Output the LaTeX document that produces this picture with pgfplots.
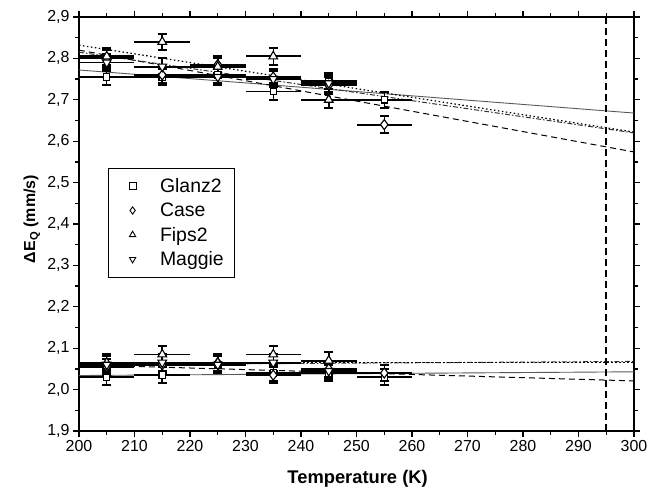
\documentclass[border=0pt]{standalone}
\usepackage{pgfplots}
\pgfplotsset{compat=1.18}
\usepackage{pgfplotstable}
\usepackage{fontspec}
\setmainfont{Liberation Sans}

\pgfplotstableread{
x y ex ey
205 2.755 5 0.02
215 2.755 5 0.02
225 2.760 5 0.02
235 2.720 5 0.02
245 2.745 5 0.02
255 2.700 5 0.02
205 2.030 5 0.02
215 2.035 5 0.02
225 2.060 5 0.02
235 2.040 5 0.02
245 2.040 5 0.02
255 2.030 5 0.02
}\glanz
\pgfplotstableread{
x y ex ey
205 2.800 5 0.02
215 2.760 5 0.02
225 2.785 5 0.02
235 2.755 5 0.02
245 2.735 5 0.02
255 2.640 5 0.02
205 2.055 5 0.02
215 2.060 5 0.02
225 2.065 5 0.02
235 2.035 5 0.02
245 2.050 5 0.02
255 2.040 5 0.02
}\case
\pgfplotstableread{
x y ex ey
205 2.805 5 0.02
215 2.840 5 0.02
225 2.780 5 0.02
235 2.805 5 0.02
245 2.700 5 0.02
205 2.065 5 0.02
215 2.085 5 0.02
225 2.065 5 0.02
235 2.085 5 0.02
245 2.070 5 0.02
}\fips
\pgfplotstableread{
x y ex ey
205 2.790 5 0.02
215 2.780 5 0.02
225 2.755 5 0.02
235 2.750 5 0.02
245 2.740 5 0.02
205 2.060 5 0.02
215 2.065 5 0.02
225 2.060 5 0.02
235 2.065 5 0.02
245 2.045 5 0.02
}\maggie

\pgfplotsset{
  xbars/.style={forget plot, draw=none, mark=none,
    error bars/x dir=both, error bars/x explicit, error bars/error mark=none,
    error bars/error bar style={line width=1.8bp, black}},
  ybars/.style={only marks, black, line width=1.1bp,
    error bars/y dir=both, error bars/y explicit,
    error bars/error bar style={line width=1.5bp, black},
    error bars/error mark=-,
    error bars/error mark options={rotate=90, mark size=4.5bp, line width=2bp, black}},
}

\begin{document}
\begin{tikzpicture}
\path[use as bounding box] (-79bp,-64bp) rectangle (570bp,431bp);
\begin{axis}[
  at={(0,0)}, anchor=south west,
  scale only axis, width=555bp, height=414bp,
  xmin=200, xmax=300, ymin=1.9, ymax=2.9,
  xtick={200,210,...,300},
  ytick={1.9,2.0,...,2.91},
  minor x tick num=1, minor y tick num=1,
  tick align=outside, tick pos=both,
  major tick length=6bp, minor tick length=3.5bp,
  every tick/.style={line width=1.3bp, black},
  axis line style={line width=1.6bp},
  /pgf/number format/assume math mode=true,
  yticklabel style={/pgf/number format/.cd, fixed, fixed zerofill, precision=1, use comma},
  xticklabel style={/pgf/number format/.cd, fixed, precision=0, 1000 sep={}},
  tick label style={font=\fontsize{16}{18}\selectfont},
  xlabel={\textbf{Temperature (K)}},
  ylabel={\textbf{ΔE\textsubscript{Q} (mm/s)}},
  xlabel style={font=\fontsize{18.4}{20}\selectfont, at={(axis description cs:0.502,-0.116)}, anchor=center},
  ylabel style={font=\fontsize{16}{18}\selectfont, at={(axis description cs:-0.085,0.512)}, anchor=center},
  legend style={at={(0.052,0.635)}, anchor=north west, draw=black, line width=0.6bp,
    font=\fontsize{19.5}{22}\selectfont, row sep=5bp, inner xsep=9bp, inner ysep=8bp},
  legend cell align=left,
  legend image code/.code={\path (0bp,0bp) (40bp,0bp); \draw plot coordinates {(15bp,0bp)};},
  legend image post style={mark size=3.6bp, line width=0.9bp},
  clip=false,
]
% fit lines (upper)
\addplot[forget plot, gray!70!black, line width=0.9bp] coordinates {(200,2.772) (300,2.668)};
\addplot[forget plot, black, line width=1bp, dash pattern=on 6bp off 4bp] coordinates {(200,2.820) (300,2.574)};
\addplot[forget plot, black!80, line width=1bp, dash pattern=on 5bp off 2bp on 1.5bp off 2bp] coordinates {(200,2.815) (300,2.620)};
\addplot[forget plot, black, line width=1.2bp, dash pattern=on 1.5bp off 2.5bp] coordinates {(200,2.832) (300,2.622)};
% fit lines (lower)
\addplot[forget plot, gray!70!black, line width=0.9bp] coordinates {(200,2.034) (300,2.043)};
\addplot[forget plot, black, line width=1bp, dash pattern=on 6bp off 4bp] coordinates {(200,2.060) (300,2.021)};
\addplot[forget plot, black!80, line width=1bp, dash pattern=on 5bp off 2bp on 1.5bp off 2bp] coordinates {(200,2.060) (300,2.068)};
\addplot[forget plot, black, line width=1.2bp, dash pattern=on 1.5bp off 2.5bp] coordinates {(200,2.066) (300,2.066)};
% vertical line
\addplot[forget plot, black, line width=1.6bp, dash pattern=on 7bp off 4bp] coordinates {(295,1.9) (295,2.9)};
% horizontal error bars
\addplot[xbars] table[x=x, y=y, x error=ex] {\glanz};
\addplot[xbars] table[x=x, y=y, x error=ex] {\case};
\addplot[xbars] table[x=x, y=y, x error=ex] {\fips};
\addplot[xbars] table[x=x, y=y, x error=ex] {\maggie};
% points
\addplot[ybars, mark=square*, mark size=3.2bp, mark options={fill=white, solid}] table[x=x, y=y, y error=ey] {\glanz};
\addlegendentry{Glanz2}
\addplot[ybars, mark=diamond*, mark size=5bp, mark options={fill=white, solid}] table[x=x, y=y, y error=ey] {\case};
\addlegendentry{Case}
\addplot[ybars, mark=triangle*, mark size=5bp, mark options={fill=white, solid}] table[x=x, y=y, y error=ey] {\fips};
\addlegendentry{Fips2}
\addplot[ybars, mark=triangle*, mark size=5bp, mark options={fill=white, solid, rotate=180}] table[x=x, y=y, y error=ey] {\maggie};
\addlegendentry{Maggie}
\end{axis}
\end{tikzpicture}
\end{document}
